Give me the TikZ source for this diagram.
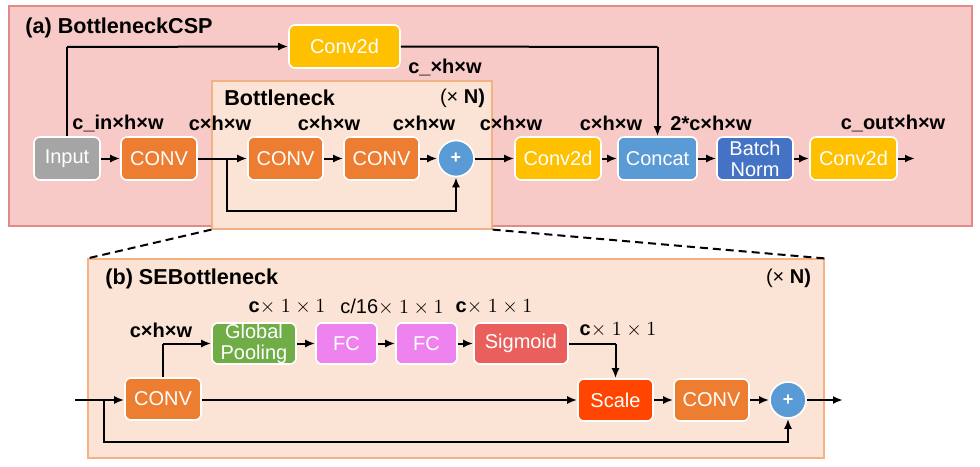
\documentclass[tikz,border=0pt]{standalone}
\usepackage{fontspec}
\setmainfont{Liberation Sans}
\usetikzlibrary{arrows.meta,calc}
\definecolor{pinkbg}{HTML}{F8CAC7}
\definecolor{pinkbd}{HTML}{E38A88}
\definecolor{peachbg}{HTML}{FBE4D5}
\definecolor{peachbd}{HTML}{F4B183}
\definecolor{cgray}{HTML}{A5A5A5}
\definecolor{corange}{HTML}{ED7D31}
\definecolor{cyellow}{HTML}{FFC000}
\definecolor{cblue}{HTML}{5B9BD5}
\definecolor{cdblue}{HTML}{4472C4}
\definecolor{cgreen}{HTML}{70AD47}
\definecolor{cviolet}{HTML}{EE82EE}
\definecolor{cred}{HTML}{EA5F5B}
\definecolor{cscale}{HTML}{FF4500}
\begin{document}
\begin{tikzpicture}[x=0.5pt,y=-0.5pt,
  arr/.style={-{Latex[length=5pt,width=4pt]}, line width=1pt},
  ln/.style={line width=1pt},
  blk/.style={draw=white, line width=0.8pt, rounded corners=3pt, text=white,
    font=\fontsize{10}{10.5}\selectfont, minimum height=21.5pt, inner sep=0pt, align=center},
  pls/.style={circle, draw=white, line width=0.8pt, fill=cblue, text=white,
    minimum size=18pt, inner sep=0pt, font=\fontsize{9}{10}\selectfont\bfseries},
  lab/.style={font=\fontsize{10}{12}\selectfont\bfseries, inner sep=0pt},
  ttl/.style={font=\fontsize{10.8}{13}\selectfont\bfseries, inner sep=0pt, anchor=west},
  cont/.style={rectangle, inner sep=0pt, line width=0.6pt},
]
\useasboundingbox (0,0) rectangle (980,466);

% containers
\node[cont, fill=pinkbg, draw=pinkbd, minimum width=481.5pt, minimum height=110pt] (csp) at (490.5,116) {};
\node[cont, fill=peachbg, draw=peachbd, minimum width=140pt, minimum height=74pt] (bn) at (352,155) {};
\node[cont, fill=peachbg, draw=peachbd, minimum width=368pt, minimum height=99.5pt] (se) at (456,358.5) {};

\draw[ln, dash pattern=on 4pt off 2.5pt] (bn.south west) -- (se.north west);
\draw[ln, dash pattern=on 4pt off 2.5pt] (bn.south east) -- (se.north east);

% titles
\node[ttl] (ta) at (25,28) {(a) BottleneckCSP};
\node[ttl] (tbn) at (224,98) {Bottleneck};
\node[lab] (nbn) at (462.5,98) {{\mdseries (\texttimes{}} N)};
\node[ttl] (tb) at (105,279) {(b) SEBottleneck};
\node[lab] (nb) at (788.5,278) {{\mdseries (\texttimes{}} N)};

% (a) blocks
\node[blk, fill=cgray, minimum width=33pt] (inp) at (67,158.5) {Input};
\node[blk, fill=corange, minimum width=38pt] (c1) at (159,158.5) {CONV};
\node[blk, fill=corange, minimum width=37.5pt] (c2) at (285.5,158.5) {CONV};
\node[blk, fill=corange, minimum width=37.5pt] (c3) at (381.5,158.5) {CONV};
\node[pls] (p1) at (456,158.5) {+};
\node[blk, fill=cyellow, minimum width=43pt] (cv2) at (558,158.5) {Conv2d};
\node[blk, fill=cblue, minimum width=39.5pt] (cat) at (657.5,158.5) {Concat};
\node[blk, fill=cdblue, minimum width=38pt] (bnorm) at (755,158.5) {Batch\\Norm};
\node[blk, fill=cyellow, minimum width=43.5pt] (cv3) at (853.5,158.5) {Conv2d};
\node[blk, fill=cyellow, minimum width=55.5pt] (cv1) at (344.5,46.5) {Conv2d};
\coordinate (outa) at (915,158.5);
\coordinate (br1) at (227,158.5);
\coordinate (br1d) at (227,211);
\coordinate (topl) at (67,47);
\coordinate (topr) at (657.5,47);

\draw[ln] (inp.north) -- (topl);
\draw[arr] (topl) -- (cv1.west);
\draw[ln] (cv1.east) -- (topr);
\draw[arr] (topr) -- (cat.north);
\draw[arr] (inp) -- (c1);
\draw[arr] (c1) -- (c2);
\draw[arr] (br1) -- (br1d) -| (p1.south);
\draw[arr] (c2) -- (c3);
\draw[arr] (c3) -- (p1);
\draw[arr] (p1) -- (cv2);
\draw[arr] (cv2) -- (cat);
\draw[arr] (cat) -- (bnorm);
\draw[arr] (bnorm) -- (cv3);
\draw[arr] (cv3) -- (outa);

% (a) labels
\node[lab] (la1) at (118,123) {c\_in\texttimes h\texttimes w};
\node[lab] (la2) at (220,123) {c\texttimes h\texttimes w};
\node[lab] (la3) at (329,123) {c\texttimes h\texttimes w};
\node[lab] (la4) at (424,123) {c\texttimes h\texttimes w};
\node[lab] (la5) at (511,123) {c\texttimes h\texttimes w};
\node[lab] (la6) at (611,123) {c\texttimes h\texttimes w};
\node[lab] (la7) at (711,123) {2*c\texttimes h\texttimes w};
\node[lab] (la8) at (893,123) {c\_out\texttimes h\texttimes w};
\node[lab] (la9) at (445,67) {c\_\texttimes h\texttimes w};

% (b) blocks
\node[blk, fill=corange, minimum width=38pt, minimum height=21pt] (b1) at (163,399) {CONV};
\node[blk, fill=cgreen, minimum width=42pt, minimum height=20.5pt] (gp) at (254,343.5) {Global\\Pooling};
\node[blk, fill=cviolet, minimum width=30.5pt, minimum height=20.5pt] (fc1) at (346.5,343.5) {FC};
\node[blk, fill=cviolet, minimum width=30.5pt, minimum height=20.5pt] (fc2) at (426.5,343.5) {FC};
\node[blk, fill=cred, minimum width=47pt, minimum height=20.5pt] (sig) at (521,343.5) {Sigmoid};
\node[blk, fill=cscale, minimum width=37.5pt, minimum height=21pt] (sc) at (615.5,400) {Scale};
\node[blk, fill=corange, minimum width=37.5pt, minimum height=21pt] (b2) at (711.5,400) {CONV};
\node[pls] (p2) at (788,400) {+};
\coordinate (inb) at (75,400);
\coordinate (outb) at (843,400);
\coordinate (br2) at (104,400);
\coordinate (br2d) at (104,442);
\coordinate (gpl) at (163,343.5);
\coordinate (sigr) at (615.5,343.5);

\draw[arr] (inb) -- (b1.west |- inb);
\draw[arr] (br2) -- (br2d) -| (p2.south);
\draw[ln] (b1.north) -- (gpl);
\draw[arr] (gpl) -- (gp.west);
\draw[arr] (gp) -- (fc1);
\draw[arr] (fc1) -- (fc2);
\draw[arr] (fc2) -- (sig);
\draw[ln] (sig.east) -- (sigr);
\draw[arr] (sigr) -- (sc.north);
\draw[arr] (b1.east |- sc) -- (sc.west);
\draw[arr] (sc) -- (b2);
\draw[arr] (b2) -- (p2);
\draw[arr] (p2) -- (outb);

% (b) labels
\node[lab] (lb1) at (161,330) {c\texttimes h\texttimes w};
\node[lab] (lb2) at (287,307) {c$\times$ $1\times1$};
\node[lab] (lb3) at (392,307) {\mdseries c/16$\times$ $1\times1$};
\node[lab] (lb4) at (494,307) {c$\times$ $1\times1$};
\node[lab] (lb5) at (618,330) {c$\times$ $1\times1$};
\end{tikzpicture}
\end{document}
